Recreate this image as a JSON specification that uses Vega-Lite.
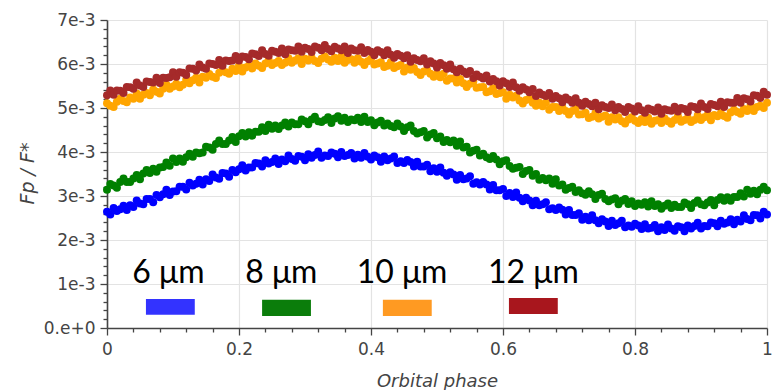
{
"$schema": "https://vega.github.io/schema/vega-lite/v6.json",
"autosize": {"type": "none"},
"width": 660, "height": 308,
"padding": {"left": 107, "top": 20, "right": 5, "bottom": 62},
"background": "white",
"config": {"view": {"stroke": null}, "font": "DejaVu Sans"},
"datasets": {
"curves": [
{"phase":0,"6 μm":2.64,"8 μm":3.14,"10 μm":5.11,"12 μm":5.29},
{"phase":0.005,"6 μm":2.58,"8 μm":3.27,"10 μm":5.05,"12 μm":5.40},
{"phase":0.01,"6 μm":2.73,"8 μm":3.24,"10 μm":5.02,"12 μm":5.30},
{"phase":0.015,"6 μm":2.66,"8 μm":3.19,"10 μm":5.14,"12 μm":5.40},
{"phase":0.02,"6 μm":2.70,"8 μm":3.32,"10 μm":5.21,"12 μm":5.39},
{"phase":0.025,"6 μm":2.78,"8 μm":3.40,"10 μm":5.16,"12 μm":5.34},
{"phase":0.03,"6 μm":2.68,"8 μm":3.32,"10 μm":5.13,"12 μm":5.48},
{"phase":0.035,"6 μm":2.79,"8 μm":3.32,"10 μm":5.24,"12 μm":5.47},
{"phase":0.04,"6 μm":2.75,"8 μm":3.40,"10 μm":5.21,"12 μm":5.44},
{"phase":0.045,"6 μm":2.90,"8 μm":3.48,"10 μm":5.33,"12 μm":5.58},
{"phase":0.05,"6 μm":2.83,"8 μm":3.38,"10 μm":5.21,"12 μm":5.51},
{"phase":0.055,"6 μm":2.81,"8 μm":3.51,"10 μm":5.30,"12 μm":5.48},
{"phase":0.06,"6 μm":2.93,"8 μm":3.59,"10 μm":5.34,"12 μm":5.60},
{"phase":0.065,"6 μm":2.93,"8 μm":3.52,"10 μm":5.29,"12 μm":5.59},
{"phase":0.07,"6 μm":2.86,"8 μm":3.62,"10 μm":5.42,"12 μm":5.58},
{"phase":0.075,"6 μm":3.02,"8 μm":3.55,"10 μm":5.37,"12 μm":5.69},
{"phase":0.08,"6 μm":2.97,"8 μm":3.65,"10 μm":5.33,"12 μm":5.57},
{"phase":0.085,"6 μm":3.04,"8 μm":3.66,"10 μm":5.44,"12 μm":5.69},
{"phase":0.09,"6 μm":3.14,"8 μm":3.76,"10 μm":5.53,"12 μm":5.68},
{"phase":0.095,"6 μm":3.02,"8 μm":3.69,"10 μm":5.44,"12 μm":5.70},
{"phase":0.1,"6 μm":3.10,"8 μm":3.85,"10 μm":5.49,"12 μm":5.81},
{"phase":0.105,"6 μm":3.11,"8 μm":3.77,"10 μm":5.55,"12 μm":5.71},
{"phase":0.11,"6 μm":3.21,"8 μm":3.85,"10 μm":5.47,"12 μm":5.81},
{"phase":0.115,"6 μm":3.21,"8 μm":3.78,"10 μm":5.53,"12 μm":5.80},
{"phase":0.12,"6 μm":3.15,"8 μm":3.88,"10 μm":5.64,"12 μm":5.75},
{"phase":0.125,"6 μm":3.30,"8 μm":3.96,"10 μm":5.56,"12 μm":5.90},
{"phase":0.13,"6 μm":3.24,"8 μm":3.89,"10 μm":5.63,"12 μm":5.89},
{"phase":0.135,"6 μm":3.28,"8 μm":3.99,"10 μm":5.69,"12 μm":5.85},
{"phase":0.14,"6 μm":3.37,"8 μm":3.97,"10 μm":5.58,"12 μm":5.99},
{"phase":0.145,"6 μm":3.26,"8 μm":3.99,"10 μm":5.71,"12 μm":5.92},
{"phase":0.15,"6 μm":3.38,"8 μm":4.12,"10 μm":5.69,"12 μm":5.89},
{"phase":0.155,"6 μm":3.34,"8 μm":4.10,"10 μm":5.77,"12 μm":6.01},
{"phase":0.16,"6 μm":3.49,"8 μm":4.05,"10 μm":5.71,"12 μm":6.00},
{"phase":0.165,"6 μm":3.42,"8 μm":4.18,"10 μm":5.68,"12 μm":5.98},
{"phase":0.17,"6 μm":3.39,"8 μm":4.26,"10 μm":5.80,"12 μm":6.09},
{"phase":0.175,"6 μm":3.52,"8 μm":4.18,"10 μm":5.86,"12 μm":5.96},
{"phase":0.18,"6 μm":3.51,"8 μm":4.18,"10 μm":5.81,"12 μm":6.08},
{"phase":0.185,"6 μm":3.44,"8 μm":4.26,"10 μm":5.78,"12 μm":6.07},
{"phase":0.19,"6 μm":3.59,"8 μm":4.34,"10 μm":5.89,"12 μm":6.08},
{"phase":0.195,"6 μm":3.54,"8 μm":4.23,"10 μm":5.84,"12 μm":6.18},
{"phase":0.2,"6 μm":3.61,"8 μm":4.36,"10 μm":5.96,"12 μm":6.08},
{"phase":0.205,"6 μm":3.70,"8 μm":4.43,"10 μm":5.83,"12 μm":6.17},
{"phase":0.21,"6 μm":3.58,"8 μm":4.35,"10 μm":5.92,"12 μm":6.16},
{"phase":0.215,"6 μm":3.65,"8 μm":4.45,"10 μm":5.96,"12 μm":6.11},
{"phase":0.22,"6 μm":3.65,"8 μm":4.37,"10 μm":5.90,"12 μm":6.24},
{"phase":0.225,"6 μm":3.75,"8 μm":4.46,"10 μm":6.01,"12 μm":6.22},
{"phase":0.23,"6 μm":3.74,"8 μm":4.46,"10 μm":5.96,"12 μm":6.18},
{"phase":0.235,"6 μm":3.67,"8 μm":4.56,"10 μm":5.91,"12 μm":6.31},
{"phase":0.24,"6 μm":3.81,"8 μm":4.48,"10 μm":6.01,"12 μm":6.23},
{"phase":0.245,"6 μm":3.74,"8 μm":4.62,"10 μm":6.09,"12 μm":6.19},
{"phase":0.25,"6 μm":3.77,"8 μm":4.53,"10 μm":5.98,"12 μm":6.30},
{"phase":0.255,"6 μm":3.85,"8 μm":4.60,"10 μm":6.02,"12 μm":6.28},
{"phase":0.26,"6 μm":3.73,"8 μm":4.52,"10 μm":6.07,"12 μm":6.25},
{"phase":0.265,"6 μm":3.83,"8 μm":4.60,"10 μm":5.98,"12 μm":6.35},
{"phase":0.27,"6 μm":3.79,"8 μm":4.67,"10 μm":6.03,"12 μm":6.22},
{"phase":0.275,"6 μm":3.92,"8 μm":4.58,"10 μm":6.13,"12 μm":6.33},
{"phase":0.28,"6 μm":3.84,"8 μm":4.67,"10 μm":6.03,"12 μm":6.31},
{"phase":0.285,"6 μm":3.80,"8 μm":4.63,"10 μm":6.08,"12 μm":6.30},
{"phase":0.29,"6 μm":3.91,"8 μm":4.63,"10 μm":6.13,"12 μm":6.40},
{"phase":0.295,"6 μm":3.89,"8 μm":4.74,"10 μm":6.00,"12 μm":6.28},
{"phase":0.3,"6 μm":3.81,"8 μm":4.70,"10 μm":6.12,"12 μm":6.37},
{"phase":0.305,"6 μm":3.95,"8 μm":4.63,"10 μm":6.08,"12 μm":6.34},
{"phase":0.31,"6 μm":3.87,"8 μm":4.74,"10 μm":6.14,"12 μm":6.27},
{"phase":0.315,"6 μm":3.93,"8 μm":4.80,"10 μm":6.07,"12 μm":6.40},
{"phase":0.32,"6 μm":4.01,"8 μm":4.70,"10 μm":6.02,"12 μm":6.37},
{"phase":0.325,"6 μm":3.87,"8 μm":4.68,"10 μm":6.12,"12 μm":6.31},
{"phase":0.33,"6 μm":3.92,"8 μm":4.73,"10 μm":6.17,"12 μm":6.43},
{"phase":0.335,"6 μm":3.91,"8 μm":4.79,"10 μm":6.10,"12 μm":6.34},
{"phase":0.34,"6 μm":3.99,"8 μm":4.66,"10 μm":6.05,"12 μm":6.29},
{"phase":0.345,"6 μm":3.96,"8 μm":4.76,"10 μm":6.14,"12 μm":6.39},
{"phase":0.35,"6 μm":3.88,"8 μm":4.81,"10 μm":6.07,"12 μm":6.35},
{"phase":0.355,"6 μm":4.00,"8 μm":4.71,"10 μm":6.17,"12 μm":6.31},
{"phase":0.36,"6 μm":3.91,"8 μm":4.78,"10 μm":6.03,"12 μm":6.40},
{"phase":0.365,"6 μm":3.93,"8 μm":4.68,"10 μm":6.09,"12 μm":6.25},
{"phase":0.37,"6 μm":3.98,"8 μm":4.74,"10 μm":6.11,"12 μm":6.35},
{"phase":0.375,"6 μm":3.85,"8 μm":4.72,"10 μm":6.03,"12 μm":6.31},
{"phase":0.38,"6 μm":3.94,"8 μm":4.78,"10 μm":6.13,"12 μm":6.30},
{"phase":0.385,"6 μm":3.87,"8 μm":4.68,"10 μm":6.05,"12 μm":6.38},
{"phase":0.39,"6 μm":3.98,"8 μm":4.80,"10 μm":5.98,"12 μm":6.25},
{"phase":0.395,"6 μm":3.89,"8 μm":4.68,"10 μm":6.06,"12 μm":6.32},
{"phase":0.4,"6 μm":3.83,"8 μm":4.72,"10 μm":6.12,"12 μm":6.28},
{"phase":0.405,"6 μm":3.92,"8 μm":4.61,"10 μm":5.99,"12 μm":6.20},
{"phase":0.41,"6 μm":3.88,"8 μm":4.67,"10 μm":6.01,"12 μm":6.31},
{"phase":0.415,"6 μm":3.78,"8 μm":4.71,"10 μm":6.04,"12 μm":6.27},
{"phase":0.42,"6 μm":3.90,"8 μm":4.60,"10 μm":5.93,"12 μm":6.20},
{"phase":0.425,"6 μm":3.81,"8 μm":4.65,"10 μm":5.96,"12 μm":6.31},
{"phase":0.43,"6 μm":3.85,"8 μm":4.59,"10 μm":6.04,"12 μm":6.21},
{"phase":0.435,"6 μm":3.90,"8 μm":4.56,"10 μm":5.91,"12 μm":6.14},
{"phase":0.44,"6 μm":3.75,"8 μm":4.65,"10 μm":5.95,"12 μm":6.23},
{"phase":0.445,"6 μm":3.79,"8 μm":4.58,"10 μm":5.98,"12 μm":6.19},
{"phase":0.45,"6 μm":3.75,"8 μm":4.48,"10 μm":5.83,"12 μm":6.13},
{"phase":0.455,"6 μm":3.82,"8 μm":4.56,"10 μm":5.92,"12 μm":6.20},
{"phase":0.46,"6 μm":3.77,"8 μm":4.60,"10 μm":5.87,"12 μm":6.05},
{"phase":0.465,"6 μm":3.67,"8 μm":4.48,"10 μm":5.91,"12 μm":6.13},
{"phase":0.47,"6 μm":3.78,"8 μm":4.42,"10 μm":5.82,"12 μm":6.09},
{"phase":0.475,"6 μm":3.67,"8 μm":4.45,"10 μm":5.75,"12 μm":6.06},
{"phase":0.48,"6 μm":3.67,"8 μm":4.48,"10 μm":5.83,"12 μm":6.13},
{"phase":0.485,"6 μm":3.71,"8 μm":4.33,"10 μm":5.86,"12 μm":5.99},
{"phase":0.49,"6 μm":3.56,"8 μm":4.40,"10 μm":5.78,"12 μm":6.06},
{"phase":0.495,"6 μm":3.63,"8 μm":4.43,"10 μm":5.71,"12 μm":6.01},
{"phase":0.5,"6 μm":3.55,"8 μm":4.31,"10 μm":5.78,"12 μm":5.92},
{"phase":0.505,"6 μm":3.65,"8 μm":4.35,"10 μm":5.70,"12 μm":6.02},
{"phase":0.51,"6 μm":3.53,"8 μm":4.23,"10 μm":5.78,"12 μm":5.97},
{"phase":0.515,"6 μm":3.46,"8 μm":4.27,"10 μm":5.62,"12 μm":5.89},
{"phase":0.52,"6 μm":3.54,"8 μm":4.22,"10 μm":5.67,"12 μm":5.99},
{"phase":0.525,"6 μm":3.49,"8 μm":4.26,"10 μm":5.67,"12 μm":5.88},
{"phase":0.53,"6 μm":3.37,"8 μm":4.14,"10 μm":5.58,"12 μm":5.81},
{"phase":0.535,"6 μm":3.48,"8 μm":4.24,"10 μm":5.66,"12 μm":5.89},
{"phase":0.54,"6 μm":3.38,"8 μm":4.10,"10 μm":5.56,"12 μm":5.83},
{"phase":0.545,"6 μm":3.40,"8 μm":4.12,"10 μm":5.48,"12 μm":5.77},
{"phase":0.55,"6 μm":3.45,"8 μm":3.99,"10 μm":5.55,"12 μm":5.84},
{"phase":0.555,"6 μm":3.28,"8 μm":4.03,"10 μm":5.60,"12 μm":5.68},
{"phase":0.56,"6 μm":3.31,"8 μm":4.05,"10 μm":5.46,"12 μm":5.76},
{"phase":0.565,"6 μm":3.26,"8 μm":3.92,"10 μm":5.47,"12 μm":5.71},
{"phase":0.57,"6 μm":3.32,"8 μm":3.96,"10 μm":5.48,"12 μm":5.67},
{"phase":0.575,"6 μm":3.26,"8 μm":3.88,"10 μm":5.36,"12 μm":5.74},
{"phase":0.58,"6 μm":3.15,"8 μm":3.84,"10 μm":5.38,"12 μm":5.60},
{"phase":0.585,"6 μm":3.25,"8 μm":3.91,"10 μm":5.45,"12 μm":5.66},
{"phase":0.59,"6 μm":3.13,"8 μm":3.83,"10 μm":5.32,"12 μm":5.61},
{"phase":0.595,"6 μm":3.13,"8 μm":3.72,"10 μm":5.34,"12 μm":5.51},
{"phase":0.6,"6 μm":3.16,"8 μm":3.79,"10 μm":5.36,"12 μm":5.61},
{"phase":0.605,"6 μm":3.00,"8 μm":3.81,"10 μm":5.21,"12 μm":5.56},
{"phase":0.61,"6 μm":3.07,"8 μm":3.68,"10 μm":5.30,"12 μm":5.48},
{"phase":0.615,"6 μm":2.98,"8 μm":3.62,"10 μm":5.24,"12 μm":5.58},
{"phase":0.62,"6 μm":3.08,"8 μm":3.64,"10 μm":5.28,"12 μm":5.47},
{"phase":0.625,"6 μm":2.96,"8 μm":3.66,"10 μm":5.17,"12 μm":5.39},
{"phase":0.63,"6 μm":2.88,"8 μm":3.50,"10 μm":5.10,"12 μm":5.47},
{"phase":0.635,"6 μm":2.96,"8 μm":3.57,"10 μm":5.18,"12 μm":5.42},
{"phase":0.64,"6 μm":2.90,"8 μm":3.59,"10 μm":5.21,"12 μm":5.36},
{"phase":0.645,"6 μm":2.79,"8 μm":3.46,"10 μm":5.12,"12 μm":5.43},
{"phase":0.65,"6 μm":2.89,"8 μm":3.50,"10 μm":5.05,"12 μm":5.27},
{"phase":0.655,"6 μm":2.79,"8 μm":3.37,"10 μm":5.12,"12 μm":5.35},
{"phase":0.66,"6 μm":2.81,"8 μm":3.41,"10 μm":5.04,"12 μm":5.30},
{"phase":0.665,"6 μm":2.86,"8 μm":3.36,"10 μm":5.12,"12 μm":5.27},
{"phase":0.67,"6 μm":2.70,"8 μm":3.40,"10 μm":4.96,"12 μm":5.34},
{"phase":0.675,"6 μm":2.72,"8 μm":3.28,"10 μm":5.02,"12 μm":5.21},
{"phase":0.68,"6 μm":2.68,"8 μm":3.38,"10 μm":5.02,"12 μm":5.27},
{"phase":0.685,"6 μm":2.74,"8 μm":3.24,"10 μm":4.93,"12 μm":5.22},
{"phase":0.69,"6 μm":2.69,"8 μm":3.26,"10 μm":5.01,"12 μm":5.13},
{"phase":0.695,"6 μm":2.58,"8 μm":3.14,"10 μm":4.93,"12 μm":5.24},
{"phase":0.7,"6 μm":2.68,"8 μm":3.18,"10 μm":4.85,"12 μm":5.19},
{"phase":0.705,"6 μm":2.57,"8 μm":3.21,"10 μm":4.93,"12 μm":5.12},
{"phase":0.71,"6 μm":2.57,"8 μm":3.09,"10 μm":4.98,"12 μm":5.22},
{"phase":0.715,"6 μm":2.61,"8 μm":3.13,"10 μm":4.85,"12 μm":5.12},
{"phase":0.72,"6 μm":2.46,"8 μm":3.06,"10 μm":4.86,"12 μm":5.05},
{"phase":0.725,"6 μm":2.53,"8 μm":3.03,"10 μm":4.89,"12 μm":5.14},
{"phase":0.73,"6 μm":2.45,"8 μm":3.11,"10 μm":4.77,"12 μm":5.09},
{"phase":0.735,"6 μm":2.56,"8 μm":3.04,"10 μm":4.80,"12 μm":5.04},
{"phase":0.74,"6 μm":2.45,"8 μm":2.93,"10 μm":4.88,"12 μm":5.12},
{"phase":0.745,"6 μm":2.38,"8 μm":3.02,"10 μm":4.76,"12 μm":4.97},
{"phase":0.75,"6 μm":2.47,"8 μm":3.05,"10 μm":4.80,"12 μm":5.06},
{"phase":0.755,"6 μm":2.42,"8 μm":2.93,"10 μm":4.83,"12 μm":5.02},
{"phase":0.76,"6 μm":2.32,"8 μm":2.88,"10 μm":4.69,"12 μm":5.00},
{"phase":0.765,"6 μm":2.44,"8 μm":2.92,"10 μm":4.79,"12 μm":5.08},
{"phase":0.77,"6 μm":2.34,"8 μm":2.95,"10 μm":4.74,"12 μm":4.95},
{"phase":0.775,"6 μm":2.38,"8 μm":2.81,"10 μm":4.79,"12 μm":5.02},
{"phase":0.78,"6 μm":2.44,"8 μm":2.89,"10 μm":4.70,"12 μm":4.98},
{"phase":0.785,"6 μm":2.29,"8 μm":2.93,"10 μm":4.65,"12 μm":4.91},
{"phase":0.79,"6 μm":2.33,"8 μm":2.82,"10 μm":4.74,"12 μm":5.02},
{"phase":0.795,"6 μm":2.30,"8 μm":2.88,"10 μm":4.79,"12 μm":4.99},
{"phase":0.8,"6 μm":2.37,"8 μm":2.77,"10 μm":4.71,"12 μm":4.92},
{"phase":0.805,"6 μm":2.33,"8 μm":2.83,"10 μm":4.66,"12 μm":5.04},
{"phase":0.81,"6 μm":2.25,"8 μm":2.80,"10 μm":4.75,"12 μm":4.95},
{"phase":0.815,"6 μm":2.36,"8 μm":2.86,"10 μm":4.68,"12 μm":4.89},
{"phase":0.82,"6 μm":2.26,"8 μm":2.76,"10 μm":4.78,"12 μm":4.99},
{"phase":0.825,"6 μm":2.28,"8 μm":2.88,"10 μm":4.64,"12 μm":4.96},
{"phase":0.83,"6 μm":2.34,"8 μm":2.77,"10 μm":4.71,"12 μm":4.92},
{"phase":0.835,"6 μm":2.20,"8 μm":2.81,"10 μm":4.73,"12 μm":5.01},
{"phase":0.84,"6 μm":2.29,"8 μm":2.71,"10 μm":4.66,"12 μm":4.87},
{"phase":0.845,"6 μm":2.23,"8 μm":2.78,"10 μm":4.76,"12 μm":4.97},
{"phase":0.85,"6 μm":2.35,"8 μm":2.83,"10 μm":4.70,"12 μm":4.95},
{"phase":0.855,"6 μm":2.26,"8 μm":2.73,"10 μm":4.64,"12 μm":4.94},
{"phase":0.86,"6 μm":2.21,"8 μm":2.80,"10 μm":4.73,"12 μm":5.03},
{"phase":0.865,"6 μm":2.31,"8 μm":2.75,"10 μm":4.81,"12 μm":4.92},
{"phase":0.87,"6 μm":2.29,"8 μm":2.75,"10 μm":4.69,"12 μm":5.00},
{"phase":0.875,"6 μm":2.20,"8 μm":2.85,"10 μm":4.73,"12 μm":4.98},
{"phase":0.88,"6 μm":2.33,"8 μm":2.81,"10 μm":4.77,"12 μm":4.91},
{"phase":0.885,"6 μm":2.26,"8 μm":2.73,"10 μm":4.68,"12 μm":5.04},
{"phase":0.89,"6 μm":2.32,"8 μm":2.84,"10 μm":4.73,"12 μm":5.02},
{"phase":0.895,"6 μm":2.39,"8 μm":2.90,"10 μm":4.83,"12 μm":4.97},
{"phase":0.9,"6 μm":2.26,"8 μm":2.81,"10 μm":4.73,"12 μm":5.10},
{"phase":0.905,"6 μm":2.32,"8 μm":2.79,"10 μm":4.79,"12 μm":5.02},
{"phase":0.91,"6 μm":2.31,"8 μm":2.85,"10 μm":4.84,"12 μm":4.98},
{"phase":0.915,"6 μm":2.40,"8 μm":2.91,"10 μm":4.72,"12 μm":5.09},
{"phase":0.92,"6 μm":2.38,"8 μm":2.79,"10 μm":4.84,"12 μm":5.07},
{"phase":0.925,"6 μm":2.31,"8 μm":2.91,"10 μm":4.81,"12 μm":5.04},
{"phase":0.93,"6 μm":2.44,"8 μm":2.97,"10 μm":4.88,"12 μm":5.14},
{"phase":0.935,"6 μm":2.37,"8 μm":2.89,"10 μm":4.82,"12 μm":5.02},
{"phase":0.94,"6 μm":2.40,"8 μm":2.97,"10 μm":4.78,"12 μm":5.13},
{"phase":0.945,"6 μm":2.47,"8 μm":2.89,"10 μm":4.90,"12 μm":5.12},
{"phase":0.95,"6 μm":2.36,"8 μm":2.98,"10 μm":4.96,"12 μm":5.12},
{"phase":0.955,"6 μm":2.46,"8 μm":2.98,"10 μm":4.91,"12 μm":5.23},
{"phase":0.96,"6 μm":2.42,"8 μm":3.06,"10 μm":4.87,"12 μm":5.12},
{"phase":0.965,"6 μm":2.56,"8 μm":2.99,"10 μm":4.98,"12 μm":5.22},
{"phase":0.97,"6 μm":2.48,"8 μm":3.14,"10 μm":4.93,"12 μm":5.20},
{"phase":0.975,"6 μm":2.45,"8 μm":3.05,"10 μm":5.05,"12 μm":5.15},
{"phase":0.98,"6 μm":2.57,"8 μm":3.12,"10 μm":4.93,"12 μm":5.29},
{"phase":0.985,"6 μm":2.56,"8 μm":3.04,"10 μm":5.02,"12 μm":5.28},
{"phase":0.99,"6 μm":2.49,"8 μm":3.14,"10 μm":5.05,"12 μm":5.23},
{"phase":0.995,"6 μm":2.64,"8 μm":3.21,"10 μm":5.00,"12 μm":5.37},
{"phase":1,"6 μm":2.58,"8 μm":3.13,"10 μm":5.12,"12 μm":5.30}
],
"swatches": [
{"band":"6 μm","phase":0.059,"phase2":0.133,"fp":0.30,"fp2":0.66},
{"band":"8 μm","phase":0.235,"phase2":0.309,"fp":0.27,"fp2":0.64},
{"band":"10 μm","phase":0.418,"phase2":0.492,"fp":0.27,"fp2":0.64},
{"band":"12 μm","phase":0.609,"phase2":0.683,"fp":0.32,"fp2":0.68}
],
"labels": [
{"band":"6 μm","phase":0.093,"fp":1.02},
{"band":"8 μm","phase":0.264,"fp":1.02},
{"band":"10 μm","phase":0.447,"fp":1.02},
{"band":"12 μm","phase":0.646,"fp":1.02}
]
},
"encoding": {
"x": {"field": "phase", "type": "quantitative",
 "scale": {"domain": [0, 1], "nice": false, "zero": false},
 "axis": {"title": "Orbital phase", "titleFont": "DejaVu Sans", "titleFontStyle": "italic", "titleFontWeight": "normal", "titleFontSize": 18, "titleColor": "#444",
  "titleX": 330, "titleY": 58, "titleBaseline": "alphabetic", "titleAlign": "center",
  "labelFont": "DejaVu Sans", "labelFontSize": 17, "labelColor": "#444", "labelPadding": 6, "labelFlush": false, "labelOverlap": false, "labelBound": false,
  "values": [0,0.04,0.08,0.12,0.16,0.2,0.24,0.28,0.32,0.36,0.4,0.44,0.48,0.52,0.56,0.6,0.64,0.68,0.72,0.76,0.8,0.84,0.88,0.92,0.96,1],
  "labelExpr": "abs(datum.value*5-round(datum.value*5))<0.001 ? format(datum.value, '.1~f') : ''",
  "tickColor": "#444", "tickWidth": 1.3,
  "tickSize": {"condition": {"test": "abs(datum.value*5-round(datum.value*5))<0.001", "value": 7}, "value": 4},
  "domainColor": "#444", "domainWidth": 1.6,
  "grid": true, "gridColor": "#e3e3e3", "gridWidth": 1.2,
  "gridOpacity": {"condition": {"test": "abs(datum.value*5-round(datum.value*5))<0.001", "value": 1}, "value": 0}}},
"y": {"field": "fp", "type": "quantitative",
 "scale": {"domain": [0, 7], "nice": false},
 "axis": {"title": "Fp / F*", "titleFont": "DejaVu Sans", "titleFontStyle": "italic", "titleFontWeight": "normal", "titleFontSize": 19, "titleColor": "#444",
  "titleX": -74, "titleY": 153, "titleBaseline": "alphabetic", "titleAlign": "center", "titleAngle": 270,
  "labelFont": "DejaVu Sans", "labelFontSize": 17, "labelColor": "#444", "labelPadding": 5, "labelFlush": false, "labelOverlap": false, "labelBound": false,
  "values": [0,0.2,0.4,0.6,0.8,1,1.2,1.4,1.6,1.8,2,2.2,2.4,2.6,2.8,3,3.2,3.4,3.6,3.8,4,4.2,4.4,4.6,4.8,5,5.2,5.4,5.6,5.8,6,6.2,6.4,6.6,6.8,7],
  "labelExpr": "abs(datum.value-round(datum.value))<0.001 ? (datum.value == 0 ? '0.e+0' : round(datum.value) + 'e-3') : ''",
  "tickColor": "#444", "tickWidth": 1.3,
  "tickSize": {"condition": {"test": "abs(datum.value-round(datum.value))<0.001", "value": 7}, "value": 4},
  "domainColor": "#444", "domainWidth": 1.6,
  "grid": true, "gridColor": "#e3e3e3", "gridWidth": 1.2,
  "gridOpacity": {"condition": {"test": "abs(datum.value-round(datum.value))<0.001", "value": 1}, "value": 0}}}
},
"layer": [
{
"data": {"name": "curves"},
"transform": [{"fold": ["6 μm", "8 μm", "10 μm", "12 μm"], "as": ["band", "fp"]}],
"mark": {"type": "circle", "size": 64, "opacity": 1},
"encoding": {
"color": {"field": "band", "type": "nominal",
 "scale": {"domain": ["6 μm", "8 μm", "10 μm", "12 μm"], "range": ["#0000ff", "#008000", "#ffa500", "#a52a2a"]},
 "legend": null},
"order": {"field": "band", "sort": "ascending"}
}
},
{
"data": {"name": "swatches"},
"mark": {"type": "rect"},
"encoding": {
"x2": {"field": "phase2"},
"y2": {"field": "fp2"},
"color": {"field": "band", "type": "nominal",
 "scale": {"domain": ["6 μm", "8 μm", "10 μm", "12 μm"], "range": ["#3333ff", "#0b7d0b", "#ff9a22", "#a8161d"]},
 "legend": null}
}
},
{
"data": {"name": "labels"},
"mark": {"type": "text", "font": "Lato", "fontSize": 32, "align": "center", "baseline": "alphabetic", "color": "black"},
"encoding": {
"text": {"field": "band"}
}
}
],
"resolve": {"scale": {"color": "independent"}}
}
